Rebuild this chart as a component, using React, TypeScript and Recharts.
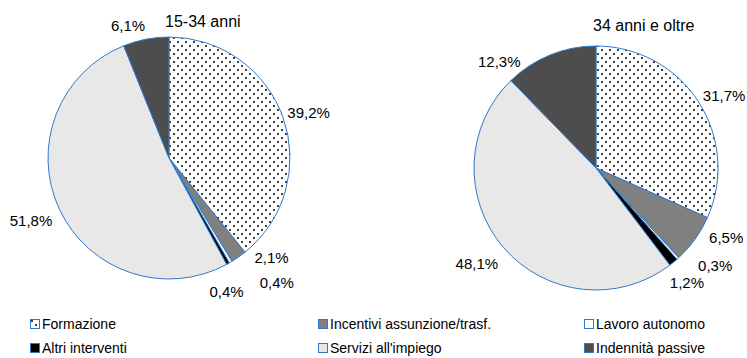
import { PieChart, Pie, Cell } from "recharts";

const CATEGORIES = [
  "Formazione",
  "Incentivi assunzione/trasf.",
  "Lavoro autonomo",
  "Altri interventi",
  "Servizi all'impiego",
  "Indennità passive",
];
const YOUNG_VALUES = [39.2, 2.1, 0.4, 0.4, 51.8, 6.1];
const OLDER_VALUES = [31.7, 6.5, 0.3, 1.2, 48.1, 12.3];
const TITLES = ["15-34 anni", "34 anni e oltre"];

const FILLS = ["url(#dots)", "#808080", "#ffffff", "#000000", "#e8e8e8", "#4d4d4d"];
const EDGE = "#2f78cc";
const FONT = "'Liberation Sans', Arial, sans-serif";

// spostamenti delle etichette (stile "best fit" di Excel)
const YOUNG_NUDGE = [[1, 3], [18, -21], [33, -2], [-14, 5], [-5, 0], [-13, 12]];
const OLDER_NUDGE = [[4, 8], [10, -17], [20, -12], [-3, 0], [-7, -1], [-41, 31]];

const RAD = Math.PI / 180;

const toRows = (values: number[]) =>
  CATEGORIES.map((name, i) => ({ name, value: values[i] }));

const fmt = (v: number) => v.toFixed(1).replace(".", ",") + "%";

function makeLabel(nudge: number[][]) {
  return (props: any) => {
    const { cx, cy, midAngle, outerRadius, index, value } = props;
    const r = outerRadius + 26;
    const x = cx + r * Math.cos(-midAngle * RAD) + nudge[index][0];
    const y = cy + r * Math.sin(-midAngle * RAD) + nudge[index][1];
    return (
      <text
        x={x}
        y={y}
        textAnchor="middle"
        dominantBaseline="central"
        fill="#000"
        fontSize={15}
        fontFamily={FONT}
      >
        {fmt(value)}
      </text>
    );
  };
}

function Swatch({ fill }: { fill: string }) {
  return (
    <svg width={10} height={10} style={{ display: "block" }}>
      <rect x={0.5} y={0.5} width={9} height={9} fill={fill} stroke={EDGE} strokeWidth={1} />
    </svg>
  );
}

export default function App() {
  const legendCols = [30, 318, 584];
  return (
    <div style={{ position: "fixed", left: 0, top: 0, width: 747, height: 358, background: "#fff", overflow: "hidden" }}>
      <svg width={0} height={0} style={{ position: "absolute" }}>
        <defs>
          <pattern id="dots" width={8} height={8} patternUnits="userSpaceOnUse">
            <rect width={8} height={8} fill="#fff" />
            <rect x={1} y={1} width={2} height={2} fill="#404040" />
            <rect x={5} y={5} width={2} height={2} fill="#404040" />
          </pattern>
        </defs>
      </svg>
      <PieChart width={747} height={310} margin={{ top: 0, right: 0, bottom: 0, left: 0 }}>
        <Pie
          data={toRows(YOUNG_VALUES)}
          dataKey="value"
          cx={169}
          cy={158}
          outerRadius={121}
          startAngle={90}
          endAngle={-270}
          stroke={EDGE}
          strokeWidth={1}
          label={makeLabel(YOUNG_NUDGE)}
          labelLine={false}
          isAnimationActive={false}
        >
          {YOUNG_VALUES.map((_, i) => (
            <Cell key={i} fill={FILLS[i]} />
          ))}
        </Pie>
        <Pie
          data={toRows(OLDER_VALUES)}
          dataKey="value"
          cx={596}
          cy={168}
          outerRadius={122}
          startAngle={90}
          endAngle={-270}
          stroke={EDGE}
          strokeWidth={1}
          label={makeLabel(OLDER_NUDGE)}
          labelLine={false}
          isAnimationActive={false}
        >
          {OLDER_VALUES.map((_, i) => (
            <Cell key={i} fill={FILLS[i]} />
          ))}
        </Pie>
      </PieChart>

      <div style={{ position: "absolute", left: 165, top: 13, fontFamily: FONT, fontSize: 16 }}>{TITLES[0]}</div>
      <div style={{ position: "absolute", left: 593, top: 17, fontFamily: FONT, fontSize: 16 }}>{TITLES[1]}</div>

      {CATEGORIES.map((name, i) => (
        <div
          key={name}
          style={{
            position: "absolute",
            left: legendCols[i % 3],
            top: i < 3 ? 315 : 339,
            display: "flex",
            alignItems: "center",
            gap: 2,
            fontFamily: FONT,
            fontSize: 14,
            lineHeight: "18px",
            whiteSpace: "nowrap",
          }}
        >
          <Swatch fill={FILLS[i]} />
          <span>{name}</span>
        </div>
      ))}
    </div>
  );
}
